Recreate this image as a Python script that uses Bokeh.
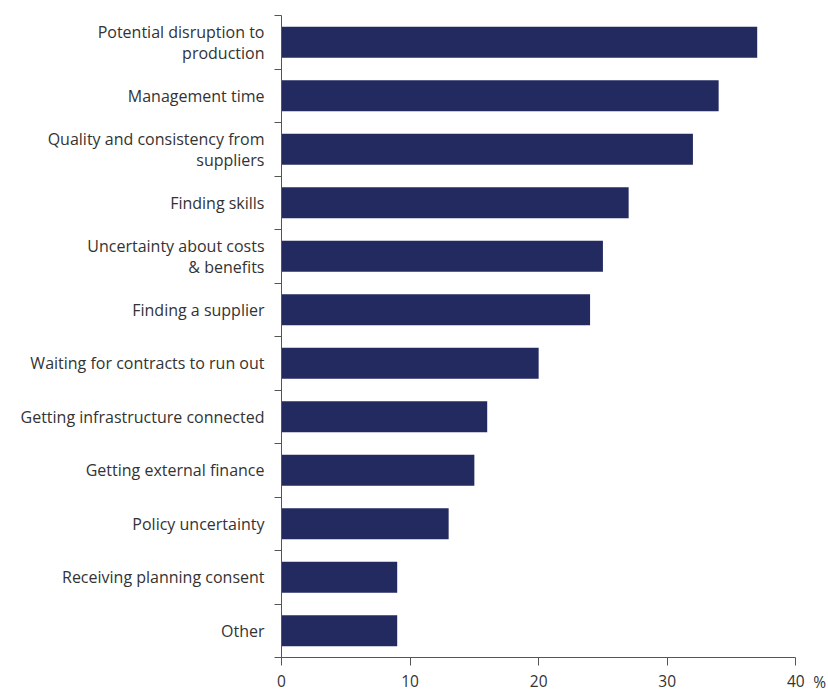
from bokeh.plotting import figure
from bokeh.models import Range1d, FixedTicker, LinearAxis
from bokeh.embed import file_html
from bokeh.resources import INLINE

categories = [
    "Potential disruption to\nproduction",
    "Management time",
    "Quality and consistency from\nsuppliers",
    "Finding skills",
    "Uncertainty about costs\n& benefits",
    "Finding a supplier",
    "Waiting for contracts to run out",
    "Getting infrastructure connected",
    "Getting external finance",
    "Policy uncertainty",
    "Receiving planning consent",
    "Other",
]
values = [37, 34, 32, 27, 25, 24, 20, 16, 15, 13, 9, 9]
x_ticks = [0, 10, 20, 30, 40]
unit_label = "%"

n = len(categories)
ypos = [n - 1 - i for i in range(n)]

FONT = "Open Sans"
TXT = "#333333"

# x range extends a little past 40 so the unit label can sit beside "40";
# the visible axis line is bounded at 0..40
p = figure(width=828, height=695, output_backend="svg", toolbar_location=None,
           x_range=Range1d(0, 42), y_range=Range1d(-0.5, n - 0.5),
           min_border_left=281, min_border_right=7, min_border_top=15, min_border_bottom=37)
p.outline_line_color = None
p.grid.grid_line_color = None
p.background_fill_color = "white"
p.border_fill_color = "white"

p.hbar(y=ypos, right=values, left=0, height=0.58, color="#222a60", line_color=None)

# y axis
ya = p.yaxis[0]
ya.ticker = FixedTicker(ticks=ypos, minor_ticks=[k - 0.5 for k in range(n + 1)])
ya.major_label_overrides = {y: c for y, c in zip(ypos, categories)}
ya.major_tick_line_color = None
ya.major_tick_out = 0
ya.major_tick_in = 0
ya.minor_tick_out = 7
ya.minor_tick_in = 0
ya.minor_tick_line_color = "#555555"
ya.axis_line_color = "#555555"
ya.major_label_standoff = 10
ya.major_label_text_font = FONT
ya.major_label_text_font_size = "16px"
ya.major_label_text_color = TXT
ya.major_label_text_align = "right"
ya.major_label_text_line_height = 0.96

# x axis
xa = p.xaxis[0]
xa.bounds = (x_ticks[0], x_ticks[-1])
xa.ticker = FixedTicker(ticks=x_ticks)
xa.major_tick_out = 8
xa.major_tick_in = 0
xa.minor_tick_line_color = None
xa.major_tick_line_color = "#555555"
xa.axis_line_color = "#555555"
xa.major_label_standoff = 9
xa.major_label_text_font = FONT
xa.major_label_text_font_size = "15.5px"
xa.major_label_text_color = TXT

# unit label "%" beside the last tick label, via a second (invisible) axis
unit_pos = 41.85
ua = LinearAxis(ticker=FixedTicker(ticks=[unit_pos]),
                major_label_overrides={unit_pos: unit_label})
ua.axis_line_color = None
ua.major_tick_line_color = None
ua.minor_tick_line_color = None
ua.major_tick_out = 0
ua.major_tick_in = 0
ua.major_label_standoff = -19
ua.major_label_text_font = FONT
ua.major_label_text_font_size = "15.5px"
ua.major_label_text_color = TXT
p.add_layout(ua, "below")

open("out.html", "w").write(file_html(p, INLINE))
